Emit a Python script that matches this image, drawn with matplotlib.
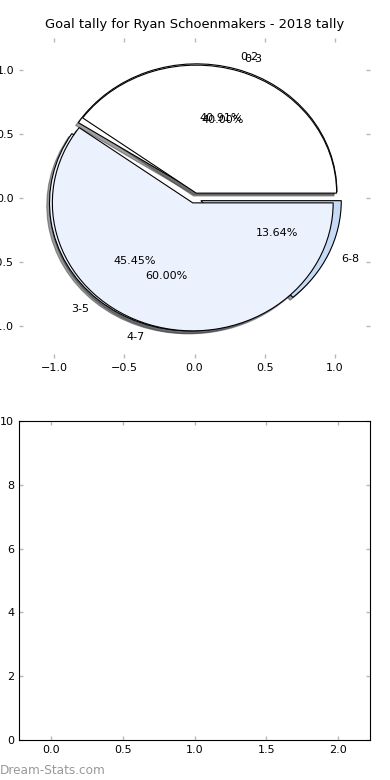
import matplotlib
matplotlib.use("Agg")
import matplotlib.pyplot as plt
import matplotlib.ticker as mticker

# Data
labels_a = ["0-2", "3-5", "6-8"]
values_a = [9, 10, 3]
colors_a = ["#ffffff", "#ebf1fd", "#c6d9f5"]
explode_a = [0.05, 0.05, 0.05]

labels_b = ["0-3", "4-7"]
values_b = [2, 3]
colors_b = ["#ffffff", "#ebf1fd"]
explode_b = [0.04, 0.04]

title = "Goal tally for Ryan Schoenmakers - 2018 tally"
xticks_pie = [-1.0, -0.5, 0.0, 0.5, 1.0]
yticks_pie = [-1.0, -0.5, 0.0, 0.5, 1.0]
xticks_bottom = [0.0, 0.5, 1.0, 1.5, 2.0]
yticks_bottom = [0, 2, 4, 6, 8, 10]

fig = plt.figure(figsize=(3.9, 7.8), dpi=100)
ax1 = fig.add_axes([19/390, 1 - 358/780, 351/390, 320/780])
ax2 = fig.add_axes([19/390, 1 - 740/780, 351/390, 319/780])

wp = dict(edgecolor="black", linewidth=0.8)
shadow = dict(ox=-0.014, oy=-0.016, shade=0.75)
ax1.pie(values_a, labels=labels_a, colors=colors_a, explode=explode_a,
        autopct="%1.2f%%", shadow=shadow, wedgeprops=wp,
        textprops=dict(fontsize=8), frame=True)
ax1.pie(values_b, labels=labels_b, colors=colors_b, explode=explode_b,
        autopct="%1.2f%%", shadow=shadow, wedgeprops=wp,
        textprops=dict(fontsize=8), frame=True)
ax1.set_aspect("auto")
ax1.set_xlim(-1.25, 1.25)
ax1.set_ylim(-1.25, 1.25)
ax1.set_xticks(xticks_pie)
ax1.set_yticks(yticks_pie)
for s in ax1.spines.values():
    s.set_visible(False)
ax1.set_title(title, fontsize=9.4, pad=7)

ax2.set_xlim(-0.222, 2.222)
ax2.set_ylim(0, 10)
ax2.set_xticks(xticks_bottom)
ax2.set_yticks(yticks_bottom)

fmt = mticker.FuncFormatter(lambda v, p: ("%.1f" % v).replace("-", "\u2212"))
for ax in (ax1, ax2):
    ax.tick_params(direction="in", top=True, right=True, length=3,
                   color="#b8b8b8", labelsize=8, labelcolor="black", width=1)
    ax.xaxis.set_major_formatter(fmt)
ax1.yaxis.set_major_formatter(fmt)

fig.text(0.0, 10/780, "Dream-Stats.com", color="#999999", fontsize=8.7,
         ha="left", va="center")

fig.savefig("out.png", dpi=100)
